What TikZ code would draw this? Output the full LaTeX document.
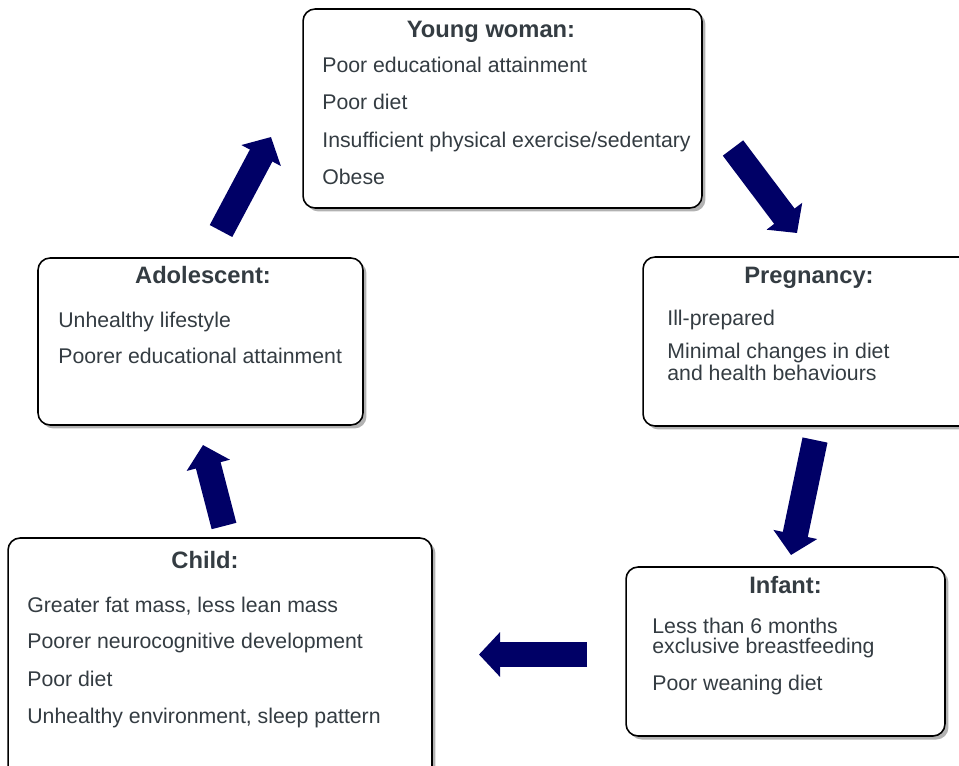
\documentclass[tikz,border=0pt]{standalone}
\usepackage{fontspec}
\setmainfont{Liberation Sans}
\usetikzlibrary{arrows.meta, shadows, positioning}
\definecolor{inkgray}{RGB}{52,60,66}
\definecolor{navyblue}{RGB}{0,0,102}

\begin{document}
\begin{tikzpicture}[x=0.02cm,y=-0.02cm,
    card/.style={draw=black, line width=0.9pt, rounded corners=0.24cm, fill=white,
      drop shadow={shadow xshift=0.07cm, shadow yshift=-0.07cm, fill=black!30, opacity=1}},
    stage/.style={anchor=base, text=inkgray, font=\fontsize{13.5}{16}\selectfont\bfseries, inner sep=0pt},
    item/.style={anchor=base west, text=inkgray, font=\fontsize{12.1}{11}\selectfont, align=left, inner sep=0pt},
    flow/.style={draw=navyblue, line width=0.51cm, -{Triangle[length=0.42cm,width=0.87cm]}}]

  \useasboundingbox (0,0) rectangle (959,765);

  % boxes
  \node[card, minimum width=7.98cm, minimum height=3.98cm] (yw)    at (502.5,108.5) {};
  \node[card, minimum width=6.64cm, minimum height=3.38cm] (preg)  at (809,341.5) {};
  \node[card, minimum width=6.38cm, minimum height=3.38cm] (inf)   at (785.5,651.5) {};
  \node[card, minimum width=8.48cm, minimum height=5.04cm] (child) at (220,664) {};
  \node[card, minimum width=6.5cm, minimum height=3.34cm]  (adol)  at (200.5,341.5) {};

  % young woman
  \node[stage] (yw_t) at (491,37) {Young woman:};
  \node[item] (yw_1) at (322,72)  {Poor educational attainment};
  \node[item] (yw_2) at (322,109) {Poor diet};
  \node[item] (yw_3) at (322,147) {Insufficient physical exercise/sedentary};
  \node[item] (yw_4) at (322,184) {Obese};

  % pregnancy (two-line items sit on their last line)
  \node[stage] (preg_t) at (809,283) {Pregnancy:};
  \node[item] (preg_1) at (667,325) {Ill-prepared};
  \node[item] (preg_2) at (667,380) {Minimal changes in diet\\and health behaviours};

  % infant
  \node[stage] (inf_t) at (785.5,593) {Infant:};
  \node[item] (inf_1) at (652,653) {Less than 6 months\\exclusive breastfeeding};
  \node[item] (inf_2) at (652,690) {Poor weaning diet};

  % child
  \node[stage] (child_t) at (205,568) {Child:};
  \node[item] (child_1) at (27,612) {Greater fat mass, less lean mass};
  \node[item] (child_2) at (27,648) {Poorer neurocognitive development};
  \node[item] (child_3) at (27,686) {Poor diet};
  \node[item] (child_4) at (27,723) {Unhealthy environment, sleep pattern};

  % adolescent
  \node[stage] (adol_t) at (203,283) {Adolescent:};
  \node[item] (adol_1) at (58,327) {Unhealthy lifestyle};
  \node[item] (adol_2) at (58,363) {Poorer educational attainment};

  % arrows round the cycle
  \coordinate (a1s) at (733,148);  \coordinate (a1e) at (797,233);
  \coordinate (a2s) at (815,440);  \coordinate (a2e) at (791,555);
  \coordinate (a3s) at (587,654.5);\coordinate (a3e) at (479,654.5);
  \coordinate (a4s) at (224,526);  \coordinate (a4e) at (203,445);
  \coordinate (a5s) at (221,231);  \coordinate (a5e) at (271,137);

  \draw[flow] (a1s) -- (a1e);
  \draw[flow] (a2s) -- (a2e);
  \draw[flow] (a3s) -- (a3e);
  \draw[flow] (a4s) -- (a4e);
  \draw[flow] (a5s) -- (a5e);
\end{tikzpicture}
\end{document}
